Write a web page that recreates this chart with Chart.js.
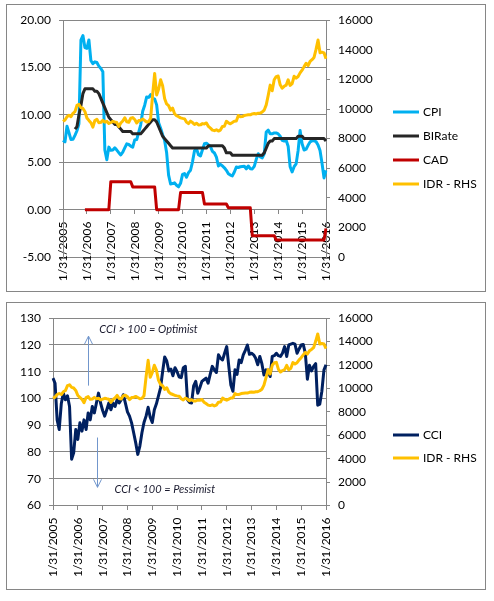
<!DOCTYPE html>
<html>
<head>
<meta charset="utf-8">
<title>Indonesia: CPI, BI rate, CAD, CCI and IDR</title>
<script src="https://cdn.jsdelivr.net/npm/chart.js@4.4.1/dist/chart.umd.min.js"></script>
<style>
  html, body { margin: 0; padding: 0; background: #fff; }
  body { width: 494px; height: 601px; position: relative; overflow: hidden; }
  .frame { position: absolute; left: 6px; width: 478px; height: 286px; border: 1px solid #868686; background: #fff; }
  #frameTop { top: 4px; }
  #frameBottom { top: 302px; }
</style>
</head>
<body>
<div class="frame" id="frameTop"><canvas id="macroChart"></canvas></div>
<div class="frame" id="frameBottom"><canvas id="cciChart"></canvas></div>
<script>
// monthly, Jan 2005 .. Jan 2016
const years = [2005, 2006, 2007, 2008, 2009, 2010, 2011, 2012, 2013, 2014, 2015, 2016];

const cpi = [
  7.32, 7.15, 8.81, 8.12, 7.40, 7.42, 7.84, 8.33, 9.06, 17.89, 18.38, 17.11,
  17.03, 17.92, 15.74, 15.40, 15.60, 15.53, 15.15, 14.90, 14.55, 6.29, 5.27, 6.60,
  6.26, 6.30, 6.52, 6.29, 6.01, 5.77, 6.06, 6.51, 6.95, 6.88, 6.71, 6.59,
  7.36, 7.40, 8.17, 8.96, 10.38, 11.03, 11.90, 11.85, 12.14, 11.77, 11.68, 11.06,
  9.17, 8.60, 7.92, 7.31, 6.04, 3.65, 2.71, 2.75, 2.83, 2.57, 2.41, 2.78,
  3.72, 3.81, 3.43, 3.91, 4.16, 5.05, 6.22, 6.44, 5.80, 5.67, 6.33, 6.96,
  7.02, 6.84, 6.65, 6.16, 5.98, 5.54, 4.61, 4.79, 4.61, 4.42, 4.15, 3.79,
  3.65, 3.56, 3.97, 4.50, 4.45, 4.53, 4.56, 4.58, 4.31, 4.61, 4.32, 4.30,
  4.57, 5.31, 5.90, 5.57, 5.47, 5.90, 8.20, 8.40, 8.00, 8.00, 8.10, 8.10,
  8.00, 7.75, 7.32, 7.25, 7.32, 6.70, 4.53, 3.99, 4.53, 4.83, 6.23, 8.36,
  6.96, 6.29, 6.38, 6.79, 7.15, 7.26, 7.26, 7.18, 6.83, 6.25, 4.89, 3.35,
  4.14
];

const biRate = [
  null, null, null, null, null, null, 8.5, 8.75, 10.0, 11.0, 12.25, 12.75,
  12.75, 12.75, 12.75, 12.75, 12.5, 12.5, 12.25, 11.75, 11.25, 10.75, 10.25, 9.75,
  9.5, 9.25, 9.0, 9.0, 8.75, 8.5, 8.25, 8.25, 8.25, 8.25, 8.25, 8.0,
  8.0, 8.0, 8.0, 8.0, 8.25, 8.5, 8.75, 9.0, 9.25, 9.5, 9.5, 9.25,
  8.75, 8.25, 7.75, 7.5, 7.25, 7.0, 6.75, 6.5, 6.5, 6.5, 6.5, 6.5,
  6.5, 6.5, 6.5, 6.5, 6.5, 6.5, 6.5, 6.5, 6.5, 6.5, 6.5, 6.5,
  6.5, 6.75, 6.75, 6.75, 6.75, 6.75, 6.75, 6.75, 6.75, 6.5, 6.0, 6.0,
  6.0, 5.75, 5.75, 5.75, 5.75, 5.75, 5.75, 5.75, 5.75, 5.75, 5.75, 5.75,
  5.75, 5.75, 5.75, 5.75, 5.75, 6.0, 6.5, 7.0, 7.25, 7.25, 7.5, 7.5,
  7.5, 7.5, 7.5, 7.5, 7.5, 7.5, 7.5, 7.5, 7.5, 7.5, 7.75, 7.75,
  7.75, 7.5, 7.5, 7.5, 7.5, 7.5, 7.5, 7.5, 7.5, 7.5, 7.5, 7.5,
  7.25
];

const cad = [
  null, null, null, null, null, null, null, null, null, null, null, 0,
  0, 0, 0, 0, 0, 0, 0, 0, 0, 0, 0, 0,
  2.95, 2.95, 2.95, 2.95, 2.95, 2.95, 2.95, 2.95, 2.95, 2.95, 2.95, 2.4,
  2.4, 2.4, 2.4, 2.4, 2.4, 2.4, 2.4, 2.4, 2.4, 2.4, 2.4, 0,
  0, 0, 0, 0, 0, 0, 0, 0, 0, 0, 0, 1.8,
  1.8, 1.8, 1.8, 1.8, 1.8, 1.8, 1.8, 1.8, 1.8, 1.8, 1.8, 0.6,
  0.6, 0.6, 0.6, 0.6, 0.6, 0.6, 0.6, 0.6, 0.6, 0.6, 0.6, 0.2,
  0.2, 0.2, 0.2, 0.2, 0.2, 0.2, 0.2, 0.2, 0.2, 0.2, 0.2, -2.75,
  -2.75, -2.75, -2.75, -2.75, -2.75, -2.75, -2.75, -2.75, -2.75, -2.75, -2.75, -3.2,
  -3.2, -3.2, -3.2, -3.2, -3.2, -3.2, -3.2, -3.2, -3.2, -3.2, -3.2, -3.2,
  -3.2, -3.2, -3.2, -3.2, -3.2, -3.2, -3.2, -3.2, -3.2, -3.2, -3.2, -3.2,
  -2.0
];

const idr = [
  9165, 9260, 9480, 9570, 9480, 9710, 9820, 10240, 10310, 10090, 10035, 9830,
  9395, 9230, 9075, 8775, 9220, 9300, 9070, 9100, 9235, 9110, 9165, 9020,
  9090, 9160, 9118, 9083, 8815, 9054, 9186, 9410, 9137, 9103, 9376, 9419,
  9291, 9051, 9217, 9234, 9318, 9225, 9118, 9153, 9378, 10995, 12400, 10950,
  11355, 11980, 11575, 10713, 10340, 10225, 9920, 10060, 9681, 9545, 9480, 9400,
  9365, 9335, 9115, 9012, 9180, 9083, 8952, 9041, 8924, 8928, 9013, 8991,
  9057, 8823, 8709, 8574, 8537, 8597, 8508, 8578, 8823, 8835, 9170, 9068,
  9000, 9085, 9180, 9190, 9565, 9480, 9485, 9560, 9588, 9615, 9605, 9670,
  9698, 9667, 9719, 9722, 9802, 9929, 10278, 10924, 11613, 11234, 11977, 12189,
  12226, 11634, 11404, 11532, 11611, 11969, 11591, 11717, 12212, 12082, 12196, 12440,
  12625, 12863, 13084, 12937, 13211, 13332, 13481, 14027, 14657, 13800, 13840, 13795,
  13400
];

const cci = [
  107.6, 105.7, 92.0, 88.4, 98.0, 102.0, 99.5, 101.0, 97.0, 77.3, 79.7, 88.4,
  84.7, 90.9, 87.8, 92.0, 88.4, 94.6, 92.0, 97.0, 94.6, 98.3, 102.0, 98.3,
  95.5, 93.4, 95.8, 98.3, 95.8, 98.3, 97.0, 99.5, 98.3, 99.5, 101.4, 98.3,
  95.0, 93.4, 90.9, 87.2, 83.4, 79.1, 82.2, 87.2, 91.0, 93.4, 96.7, 93.0,
  91.0, 95.8, 98.0, 101.0, 104.0, 110.0, 115.5, 114.0, 110.3, 111.0, 108.5, 111.5,
  110.0, 108.0, 107.8, 111.5, 112.0, 99.6, 98.5, 98.3, 104.7, 106.4, 102.0, 104.0,
  106.4, 107.0, 107.6, 105.7, 109.0, 112.0, 110.7, 109.7, 116.3, 115.0, 114.4, 117.0,
  119.4, 112.0, 105.0, 102.7, 110.7, 109.0, 114.4, 113.4, 116.3, 118.0, 120.0, 116.5,
  116.9, 116.3, 115.0, 112.6, 115.7, 113.0, 108.8, 110.7, 110.0, 108.2, 115.7, 116.0,
  116.9, 116.0, 115.7, 117.0, 119.4, 115.7, 120.0, 120.3, 120.6, 120.3, 116.9, 118.5,
  120.0, 120.2, 116.9, 107.2, 112.4, 110.3, 112.0, 113.0, 97.5, 97.9, 102.7, 110.6,
  112.6
];

// month-end category labels, e.g. 1/31/2005
const labels = [];
years.forEach(y => {
  for (let m = 1; m <= 12; m++) {
    if (y === 2016 && m > 1) break;
    labels.push(m + '/' + new Date(y, m, 0).getDate() + '/' + y);
  }
});

const blue = '#00b0f0';
const black = '#262626';
const red = '#c00000';
const gold = '#ffc000';
const navy = '#002060';
const gridColor = '#868686';
const font = { family: 'Lato, "Liberation Sans", sans-serif', size: 12 };

Chart.defaults.font.family = font.family;
Chart.defaults.font.size = font.size;
Chart.defaults.color = '#000';

// right hand legend drawn next to the plot
const sideLegend = {
  id: 'sideLegend',
  afterDraw(chart, args, opts) {
    const ctx = chart.ctx;
    ctx.save();
    ctx.font = font.size + 'px ' + font.family;
    ctx.textBaseline = 'middle';
    ctx.fillStyle = '#000';
    chart.data.datasets.forEach((ds, k) => {
      const y = opts.top + k * opts.gap;
      ctx.strokeStyle = ds.borderColor;
      ctx.lineWidth = 3;
      ctx.beginPath();
      ctx.moveTo(opts.left, y);
      ctx.lineTo(opts.left + 26, y);
      ctx.stroke();
      ctx.fillText(ds.label, opts.left + 30, y);
    });
    ctx.restore();
  }
};

function yearTicksOnly(scale) {
  scale.ticks = scale.ticks.filter(t => t.value % 12 === 0);
}

function lineSet(label, data, color, axis, order) {
  return {
    label: label, data: data, yAxisID: axis, order: order,
    borderColor: color, backgroundColor: color,
    borderWidth: 3, pointRadius: 0, tension: 0,
    borderJoinStyle: 'round', fill: false
  };
}

function xAxis(pos) {
  return {
    type: 'category',
    position: pos,
    offset: false,
    afterBuildTicks: yearTicksOnly,
    grid: { drawOnChartArea: false, tickLength: 4, color: gridColor },
    border: { color: gridColor },
    ticks: { autoSkip: false, minRotation: 90, maxRotation: 90, padding: 8, color: '#000', font: font }
  };
}

function valueAxis(side, min, max, step, width, fmt) {
  return {
    position: side,
    min: min, max: max,
    afterFit: s => { s.width = width; },
    grid: { drawOnChartArea: side === 'left', tickLength: 4, color: gridColor },
    border: { color: gridColor },
    ticks: { stepSize: step, padding: 8, color: '#000', font: font, callback: fmt }
  };
}

// Top: CPI, BI rate, CAD (left) and IDR (right)
new Chart(document.getElementById('macroChart'), {
  type: 'line',
  data: {
    labels: labels,
    datasets: [
      lineSet('CPI', cpi, blue, 'y', 4),
      lineSet('BIRate', biRate, black, 'y', 3),
      lineSet('CAD', cad, red, 'y', 2),
      lineSet('IDR - RHS', idr, gold, 'y1', 1)
    ]
  },
  options: {
    responsive: true,
    maintainAspectRatio: false,
    animation: false,
    layout: { padding: { left: 6, right: 99, top: 14, bottom: 34 } },
    plugins: {
      legend: { display: false },
      tooltip: { enabled: false },
      sideLegend: { left: 386, top: 107, gap: 24 }
    },
    scales: {
      x: xAxis({ y: 0 }),
      y: valueAxis('left', -5, 20, 5, 50, v => v.toFixed(2)),
      y1: valueAxis('right', 0, 16000, 2000, 60, v => v)
    }
  },
  plugins: [sideLegend]
});

// arrows and notes on the CCI chart
const notes = [
  { text: 'CCI > 100 = Optimist', arrowAt: 17, from: 104.8, to: 123.3, textAt: 22.4, textY: 125.9 },
  { text: 'CCI < 100 = Pessimist', arrowAt: 21.4, from: 85.4, to: 66.8, textAt: 29.7, textY: 66 }
];

const cciNotes = {
  id: 'cciNotes',
  afterDraw(chart) {
    const ctx = chart.ctx;
    const xs = chart.scales.x, ys = chart.scales.y;
    ctx.save();
    notes.forEach(n => {
      const x = Math.round(xs.getPixelForValue(n.arrowAt)) + 0.5;
      const y0 = ys.getPixelForValue(n.from);
      const y1 = ys.getPixelForValue(n.to);
      const dir = y1 < y0 ? 1 : -1;
      ctx.strokeStyle = '#7196cc';
      ctx.lineWidth = 1;
      ctx.beginPath();
      ctx.moveTo(x, y0);
      ctx.lineTo(x, y1);
      ctx.moveTo(x - 4, y1 + dir * 8);
      ctx.lineTo(x, y1);
      ctx.lineTo(x + 4, y1 + dir * 8);
      ctx.stroke();
      ctx.fillStyle = '#1a1a2e';
      ctx.font = 'italic 11px ' + font.family;
      ctx.textBaseline = 'middle';
      ctx.fillText(n.text, xs.getPixelForValue(n.textAt), ys.getPixelForValue(n.textY));
    });
    ctx.restore();
  }
};

// Bottom: CCI (left) and IDR (right)
new Chart(document.getElementById('cciChart'), {
  type: 'line',
  data: {
    labels: labels,
    datasets: [
      lineSet('CCI', cci, navy, 'y', 2),
      lineSet('IDR - RHS', idr, gold, 'y1', 1)
    ]
  },
  options: {
    responsive: true,
    maintainAspectRatio: false,
    animation: false,
    layout: { padding: { left: 6, right: 99, top: 14, bottom: 83.5 } },
    plugins: {
      legend: { display: false },
      tooltip: { enabled: false },
      sideLegend: { left: 386, top: 132, gap: 23 }
    },
    scales: {
      x: xAxis({ y: 60 }),
      y: valueAxis('left', 60, 130, 10, 40, v => v),
      y1: valueAxis('right', 0, 16000, 2000, 60, v => v)
    }
  },
  plugins: [sideLegend, cciNotes]
});
</script>
</body>
</html>
